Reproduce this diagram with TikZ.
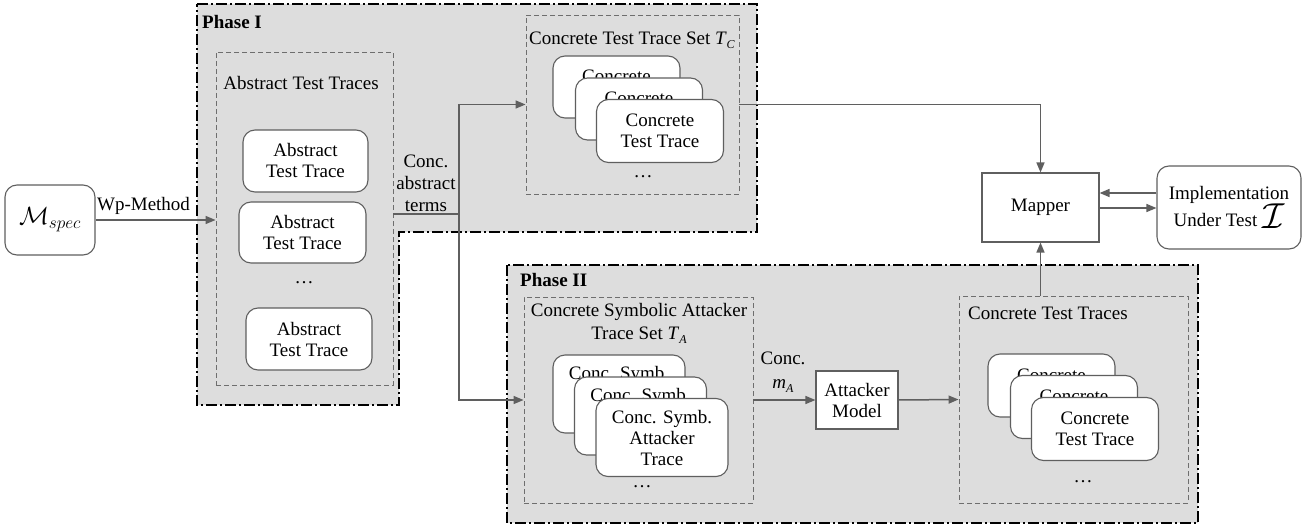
\documentclass[tikz,border=0pt]{standalone}
\usepackage{fontspec}
\usepackage{graphicx}
\setmainfont{Liberation Serif}
\usetikzlibrary{arrows.meta,calc}
\definecolor{phasefill}{HTML}{DDDDDD}
\definecolor{edgegray}{HTML}{5F5F5F}
\definecolor{dashgray}{HTML}{6E6E6E}
% italic letter with a lowered italic subscript
\newcommand\tsub[2]{\textit{#1}\raisebox{-0.45ex}{\fontsize{12}{12}\selectfont\textit{#2}}}

\begin{document}
\begin{tikzpicture}[x=1pt,y=-1pt,
  font=\fontsize{19}{21}\selectfont,
  phase/.style={fill=phasefill, draw=black, line width=1.8pt,
    dash pattern=on 11pt off 3pt on 2pt off 3pt},
  setbox/.style={draw=dashgray, line width=0.9pt, dash pattern=on 5pt off 3pt, inner sep=0pt},
  trace/.style={draw=edgegray, fill=white, line width=1.1pt, rounded corners=12pt,
    align=center, inner sep=0pt},
  plainbox/.style={draw=edgegray, fill=white, line width=1.1pt, align=center, inner sep=0pt},
  flow/.style={draw=edgegray, line width=1.5pt, -{Triangle[length=10pt,width=8pt]}},
  link/.style={draw=edgegray, line width=1.5pt},
  lbl/.style={align=center, inner sep=0pt},
  dots/.style={inner sep=0pt},
]
\useasboundingbox (0,0) rectangle (1307,527);

% phase regions
\path[phase] (197,4) -- (757,4) -- (757,232) -- (399,232) -- (399,405) -- (197,405) -- cycle;
\path[phase] (507,265) rectangle (1198,523);
\node[lbl, anchor=west, font=\fontsize{19}{21}\selectfont\bfseries] (p1lbl) at (202,22) {Phase I};
\node[lbl, anchor=west, font=\fontsize{19}{21}\selectfont\bfseries] (p2lbl) at (520,280) {Phase II};

% specification model
\node[trace, minimum width=90pt, minimum height=70pt] (mspec) at (50,220)
  {\fontsize{25}{25}\selectfont$\mathcal{M}_{spec}$};

% abstract test traces
\node[setbox, minimum width=177pt, minimum height=333pt] (absset) at (304.5,218.5) {};
\node[lbl] (abstitle) at (301,83) {Abstract Test Traces};
\node[trace, minimum width=125pt, minimum height=62pt] (abs1) at (305.5,161) {Abstract\\Test Trace};
\node[trace, minimum width=127pt, minimum height=61pt] (abs2) at (302.5,232.5) {Abstract\\Test Trace};
\node[dots] (absdots) at (304,283) {\dots};
\node[trace, minimum width=126pt, minimum height=62pt] (abs3) at (309,339) {Abstract\\Test Trace};

% concrete test trace set
\node[setbox, minimum width=213pt, minimum height=179pt] (ctset) at (632.5,104.5) {};
\node[lbl] (cttitle) at (632,40) {Concrete Test Trace Set \tsub{T}{C}};
\node[trace, minimum width=127pt, minimum height=62pt] (ct1) at (616.5,87) {Concrete\\Test Trace};
\node[trace, minimum width=127pt, minimum height=62pt] (ct2) at (639,109) {Concrete\\Test Trace};
\node[trace, minimum width=127pt, minimum height=63pt] (ct3) at (660,131) {Concrete\\Test Trace};
\node[dots] (ctdots) at (643,177) {\dots};

% symbolic attacker traces
\node[setbox, minimum width=229pt, minimum height=206pt] (symset) at (638.5,400) {};
\node[lbl, font=\fontsize{19}{23}\selectfont] (symtitle) at (639,323)
  {Concrete Symbolic Attacker\\Trace Set \tsub{T}{A}};
\node[trace, minimum width=132pt, minimum height=78pt] (cs1) at (619,394) {Conc. Symb.\\Attacker\\Trace};
\node[trace, minimum width=132pt, minimum height=78pt] (cs2) at (640.5,416) {Conc. Symb.\\Attacker\\Trace};
\node[trace, minimum width=132pt, minimum height=78pt] (cs3) at (662,437.5) {Conc. Symb.\\Attacker\\Trace};
\node[dots] (csdots) at (642,487) {\dots};

% attacker model
\node[plainbox, minimum width=82pt, minimum height=58pt] (attacker) at (857,400) {Attacker\\Model};
\node[lbl, font=\fontsize{19}{24}\selectfont] (cma) at (783,372) {Conc.\\\tsub{m}{A}};

% concrete test traces of phase II
\node[setbox, minimum width=229pt, minimum height=207pt] (ctt) at (1073.5,399.5) {};
\node[lbl, anchor=west] (ctttitle) at (968,313) {Concrete Test Traces};
\node[trace, minimum width=127pt, minimum height=63pt] (cr1) at (1051.5,385.5) {Concrete\\Test Trace};
\node[trace, minimum width=127pt, minimum height=63pt] (cr2) at (1074,407) {Concrete\\Test Trace};
\node[trace, minimum width=127pt, minimum height=63pt] (cr3) at (1095,429) {Concrete\\Test Trace};
\node[dots] (crdots) at (1083,482) {\dots};

% mapper and implementation
\node[plainbox, minimum width=117pt, minimum height=69pt] (mapper) at (1040.5,207.5) {Mapper};
\node[trace, minimum width=144pt, minimum height=83pt] (iut) at (1229,207.5)
  {Implementation\\Under Test \raisebox{-0.25ex}{\scalebox{1.45}{\fontsize{24}{24}\selectfont$\mathcal{I}$}}};

% connectors
\draw[flow] (mspec.east) -- node[above=1pt, pos=0.4] (wplbl) {Wp-Method} (mspec.east -| absset.west);

\coordinate (jn) at (459,214);
\draw[link] (absset.east |- jn) -- (jn);
\draw[flow] (jn) |- (ctset.west);
\draw[flow] (jn) |- (symset.west);
\node[lbl, font=\fontsize{19}{22}\selectfont] (cabs) at (426,183) {Conc.\\abstract\\terms};

\draw[flow] (ctset.east) -| (mapper.north);
\draw[flow] (symset.east) -- (attacker.west);
\draw[flow] (attacker.east) -- (ctt.west);
\draw[flow] (mapper.south |- ctt.north) -- (mapper.south);

\coordinate (yhigh) at (0,193);
\coordinate (ylow) at (0,208);
\draw[flow] (iut.west |- yhigh) -- (mapper.east |- yhigh);
\draw[flow] (mapper.east |- ylow) -- (iut.west |- ylow);
\end{tikzpicture}
\end{document}
